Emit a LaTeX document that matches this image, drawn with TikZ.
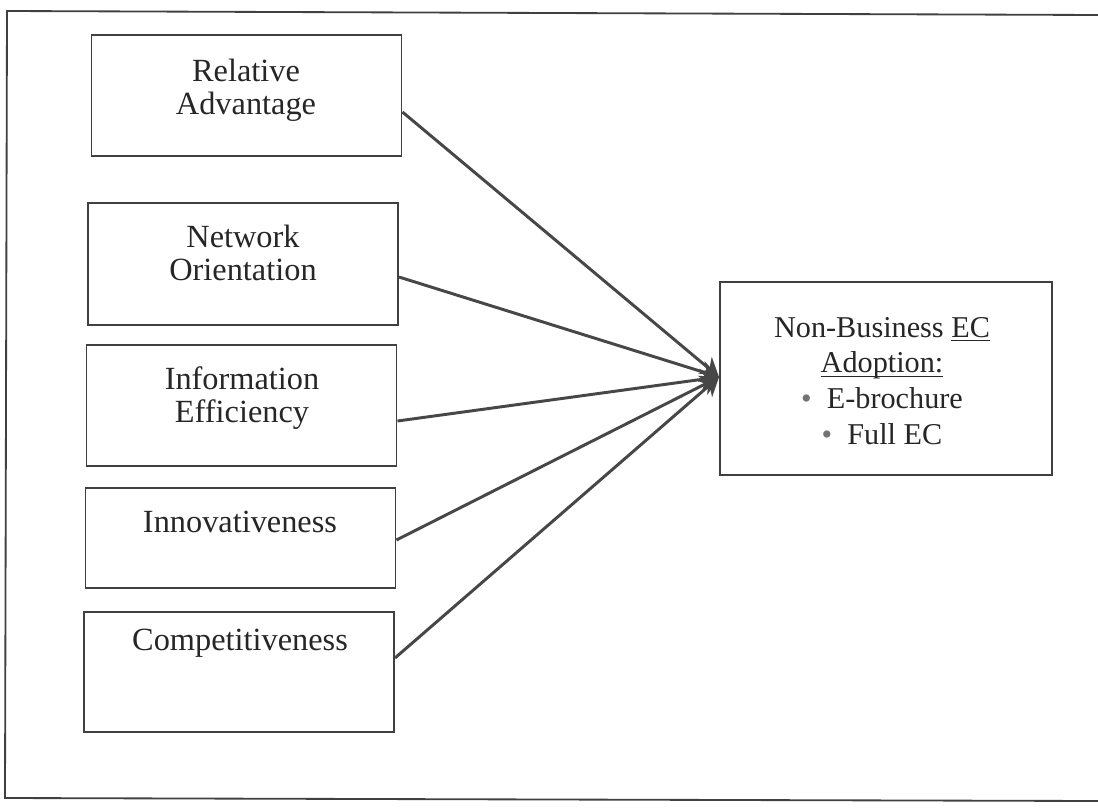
\documentclass[tikz,border=0pt]{standalone}
\usepackage{fontspec}
\setmainfont{Liberation Serif}
\usetikzlibrary{
  arrows.meta,
  chains,
  positioning,
  scopes
}
% underline at a fixed depth, as a word processor draws it
\newcommand{\underword}[1]{\setbox0\hbox{#1}\rlap{\rule[-3pt]{\wd0}{0.7pt}}\box0}

\begin{document}
\begin{tikzpicture}[
      x=0.025cm, y=-0.025cm,
      factor/.style={
         rectangle,
         minimum width=7.75cm,
         line width=1.3pt,
         draw=black!75
      },
      outcome/.style={
         rectangle,
         minimum width=8.3cm,
         minimum height=4.825cm,
         line width=1.3pt,
         draw=black!75
      },
      caption/.style={
         align=center,
         text=black!85,
         font=\fontsize{23}{23.5}\selectfont
      },
      point/.style={coordinate},>={Stealth[length=13pt,width=15pt,inset=4pt]},
      tip/.style={->,shorten >=0.007pt},
      every join/.style={line width=2.1pt,draw=black!72}
    ]
    \useasboundingbox (0,0) rectangle (1098,809);
    % outer frame, open to the right
    \draw[line width=1.3pt,black!75] (1098,15) -- (7,11) -- (5,798) -- (1098,801);

    % factors
    \node (ra) [factor, minimum height=3.025cm] at (246.5,95.5) {};
    \node (no) [factor, minimum height=3.05cm] at (243,264) {};
    \node (ie) [factor, minimum height=3.025cm] at (241.5,405.5) {};
    \node (in) [factor, minimum height=2.5cm] at (240.5,538) {};
    \node (co) [factor, minimum height=3cm] at (239,672) {};
    \node (ra-text) [caption] at (246,90) {Relative\\Advantage};
    \node (no-text) [caption] at (243,253) {Network\\Orientation};
    \node (ie-text) [caption] at (242,398) {Information\\Efficiency};
    \node (in-text) [caption] at (240,522) {Innovativeness};
    \node (co-text) [caption] at (240,643) {Competitiveness};

    % adoption
    \node (ec) [outcome] at (886,378.5) {};
    \node (ec-text) [caption, font=\fontsize{21.5}{25.5}\selectfont] at (882,381)
      {Non-Business \underword{EC}\\
       \underword{Adoption:}\\
       {\color{black!55}\textbullet}\enspace E-brochure\\
       {\color{black!55}\textbullet}\enspace Full EC};

    % line ends
    \node (ra-out) [point] at (ra.east |- 0,112) {};
    \node (no-out) [point] at (no.east |- 0,277) {};
    \node (ie-out) [point] at (ie.east |- 0,421) {};
    \node (in-out) [point] at (in.east |- 0,540) {};
    \node (co-out) [point] at (co.east |- 0,658) {};
    \node (ec-in) [point] at (ec.west |- 0,377) {};

  { [start chain]
       \chainin (ra-out);
       \chainin (ec-in)    [join=by tip];
  }
  { [start chain]
       \chainin (no-out);
       \chainin (ec-in)    [join=by tip];
  }
  { [start chain]
       \chainin (ie-out);
       \chainin (ec-in)    [join=by tip];
  }
  { [start chain]
       \chainin (in-out);
       \chainin (ec-in)    [join=by tip];
  }
  { [start chain]
       \chainin (co-out);
       \chainin (ec-in)    [join=by tip];
  }
\end{tikzpicture}
\end{document}
